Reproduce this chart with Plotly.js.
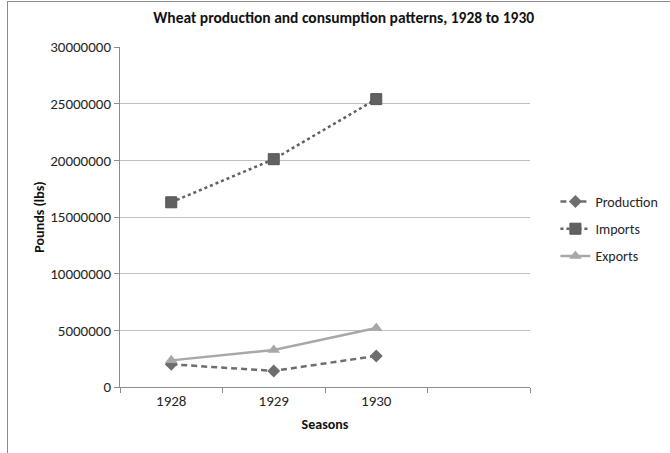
<!DOCTYPE html>
<html><head><meta charset="utf-8">
<script src="https://cdn.plot.ly/plotly-3.0.1.min.js"></script>
<style>
html,body{margin:0;padding:0;background:#fff;}
#wrap{position:relative;width:670px;height:453px;}
#frame{position:absolute;left:7px;top:1px;width:670px;height:460px;border-left:1px solid #8c8c8c;border-top:1px solid #8c8c8c;pointer-events:none;}
#chart{position:absolute;left:0;top:0;width:670px;height:453px;}
</style></head>
<body><div id="wrap"><div id="chart"></div><div id="frame"></div></div>
<script>
const seasons = ['1928', '1929', '1930'];
const allSlots = ['1928', '1929', '1930', ' '];
const production = [2000000, 1420000, 2740000];
const imports = [16300000, 20100000, 25400000];
const exportsV = [2350000, 3270000, 5200000];

const fam = 'Carlito, Lato, "Open Sans", sans-serif';
const traces = [
  {x: seasons, y: production, name: 'Production', type: 'scatter', mode: 'lines+markers', legendgroup: 'a',
   line: {color: '#6e6e6e', width: 2.5, dash: '6px,4px'}, marker: {symbol: 'diamond', size: 10, color: '#6e6e6e'}},
  {x: seasons, y: imports, name: 'Imports', type: 'scatter', mode: 'lines+markers', legendgroup: 'b',
   line: {color: '#616161', width: 2.5, dash: 'dot'}, marker: {symbol: 'square', size: 11, color: '#616161', line:{color:'#555',width:1}}},
  {x: seasons, y: exportsV, name: 'Exports', type: 'scatter', mode: 'lines+markers', legendgroup: 'c',
   line: {color: '#a8a8a8', width: 2.5}, marker: {symbol: 'triangle-up', size: 11, color: '#a8a8a8'}}
];
const layout = {
  width: 670, height: 453,
  margin: {l: 120, r: 140, t: 47, b: 66, autoexpand: false},
  paper_bgcolor: '#fff', plot_bgcolor: '#fff',
  font: {family: fam, size: 14, color: '#262626'},
  title: {text: '<b>Wheat production and consumption patterns, 1928 to 1930</b>', x: 0.513, xanchor: 'center', y: 0.962, yanchor: 'middle',
          font: {family: fam, size: 15.5, color: '#111'}},
  xaxis: {type: 'category', categoryarray: allSlots, categoryorder: 'array', range: [-0.5, 3.5],
          tickvals: allSlots, ticktext: allSlots, tickson: 'boundaries', automargin: false,
          showgrid: false, zeroline: false, showline: true, linecolor: '#8c8c8c', linewidth: 1,
          ticks: 'outside', ticklen: 5, tickcolor: '#8c8c8c',
          tickfont: {family: fam, size: 15, color: '#262626'},
          title: {text: '<b>Seasons</b>', font: {family: fam, size: 14, color: '#111'}, standoff: 10}},
  yaxis: {range: [0, 30000000], dtick: 5000000, tickformat: 'd', fixedrange: true, automargin: false,
          showgrid: true, gridcolor: '#c0c0c0', gridwidth: 1, zeroline: false,
          showline: true, linecolor: '#8c8c8c', linewidth: 1,
          ticks: 'outside', ticklen: 5, tickcolor: '#8c8c8c',
          tickfont: {family: fam, size: 15, color: '#262626'},
          title: {text: '<b>Pounds (lbs)</b>', font: {family: fam, size: 14, color: '#111'}, standoff: 2}},
  showlegend: true,
  legend: {x: 1.062, xanchor: 'left', y: 0.465, yanchor: 'middle', font: {family: fam, size: 14, color: '#262626'},
           traceorder: 'grouped', tracegroupgap: 6, bgcolor: 'rgba(0,0,0,0)'}
};
Plotly.newPlot('chart', traces, layout, {displayModeBar: false, staticPlot: true});
</script></body></html>
